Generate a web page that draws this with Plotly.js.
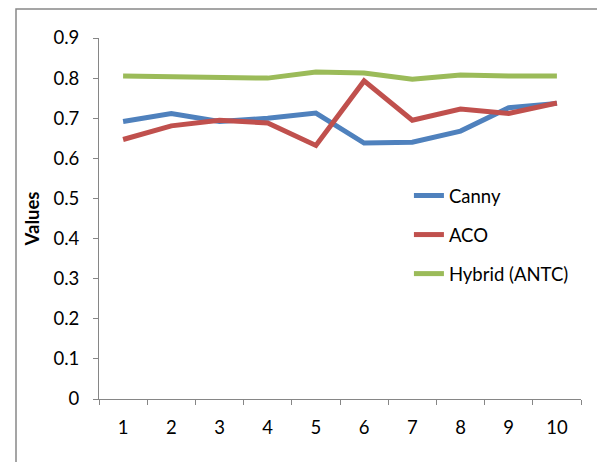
<!DOCTYPE html>
<html>
<head>
<meta charset="utf-8">
<script src="https://cdn.plot.ly/plotly-3.0.1.min.js"></script>
<style>
html,body{margin:0;padding:0;background:#fff;}
#chart{width:597px;height:462px;}
</style>
</head>
<body>
<div id="chart"></div>
<script>
const categories = ["1","2","3","4","5","6","7","8","9","10"];
const canny  = [0.692,0.712,0.692,0.700,0.713,0.638,0.640,0.668,0.726,0.737];
const aco    = [0.647,0.681,0.695,0.688,0.632,0.793,0.695,0.723,0.712,0.738];
const hybrid = [0.805,0.803,0.803,0.800,0.815,0.813,0.797,0.808,0.805,0.805];
const seriesNames = ["Canny","ACO","Hybrid (ANTC)"];
const colors = ["#4F81BD","#C0504D","#9BBB59"];
const yTicks = [0,0.1,0.2,0.3,0.4,0.5,0.6,0.7,0.8,0.9];
const yTickText = ["0","0.1","0.2","0.3","0.4","0.5","0.6","0.7","0.8","0.9"];

const data = [canny, aco, hybrid].map((vals, i) => ({
  type: "scatter",
  mode: "lines",
  x: categories,
  y: vals,
  name: seriesNames[i],
  legendgroup: "g" + i,
  line: {color: colors[i], width: 5},
  hoverinfo: "x+y+name"
}));

const fontFam = "Lato, 'Open Sans', sans-serif";
const fs = 18.5;
const layout = {
  width: 597, height: 462,
  margin: {l: 99, r: 16, t: 38, b: 63},
  paper_bgcolor: "#ffffff",
  plot_bgcolor: "#ffffff",
  font: {family: fontFam, size: fs, color: "#000"},
  showlegend: true,
  legend: {
    x: 0.643, y: 0.615, xanchor: "left", yanchor: "top",
    bgcolor: "rgba(0,0,0,0)",
    font: {family: fontFam, size: fs, color: "#000"},
    traceorder: "grouped",
    tracegroupgap: 12,
    itemwidth: 30
  },
  xaxis: {
    type: "category",
    range: [-0.5, 9.5],
    tickson: "boundaries",
    ticks: "outside", ticklen: 5, tickcolor: "#868686", tickwidth: 1,
    showline: true, linecolor: "#868686", linewidth: 1,
    showgrid: false, zeroline: false,
    ticklabelstandoff: 12,
    tickfont: {family: fontFam, size: fs, color: "#000"},
    fixedrange: true
  },
  yaxis: {
    range: [0, 0.9],
    tickvals: yTicks, ticktext: yTickText,
    ticks: "outside", ticklen: 5, tickcolor: "#868686", tickwidth: 1,
    showline: true, linecolor: "#868686", linewidth: 1,
    showgrid: false, zeroline: false,
    ticklabelstandoff: 10,
    tickfont: {family: fontFam, size: fs, color: "#000"},
    title: {text: "<b>Values</b>", font: {family: fontFam, size: fs, color: "#000"}, standoff: 8},
    fixedrange: true
  },
  shapes: [{
    type: "rect", xref: "paper", yref: "paper",
    x0: -83/482, x1: 1.2, y0: -0.5, y1: 1 + 29/361,
    line: {color: "#888888", width: 1.5}, fillcolor: "rgba(0,0,0,0)", layer: "below"
  }]
};

Plotly.newPlot("chart", data, layout, {displayModeBar: false, staticPlot: true});
</script>
</body>
</html>
